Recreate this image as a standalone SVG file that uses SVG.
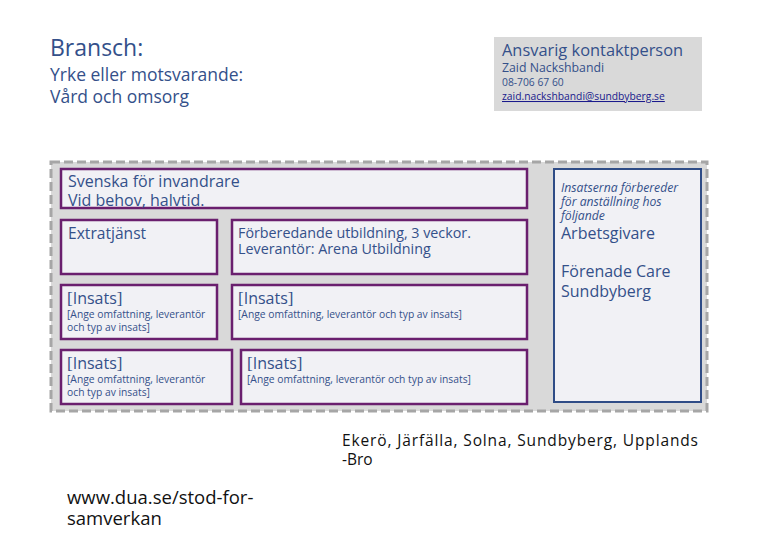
<svg xmlns="http://www.w3.org/2000/svg" width="780" height="540" viewBox="0 0 780 540">
<style>
.t{font-family:"Open Sans","Liberation Sans",sans-serif;fill:#34508a}
.k{font-family:"Open Sans","Liberation Sans",sans-serif;fill:#111}
.box{fill:#f1f1f5;stroke:#6a1f6e;stroke-width:2.5}
.small{font-size:10.3px}
.ins{font-family:"Liberation Serif",serif;font-size:17px;fill:#34508a}
</style>
<rect width="780" height="540" fill="#fff"/>
<g id="header">
<text class="t" x="50" y="56" font-size="23">Bransch:</text>
<text class="t" x="50" y="81" font-size="17.5">Yrke eller motsvarande:</text>
<text class="t" x="50" y="103" font-size="17.5">Vård och omsorg</text>
</g>
<g id="contact">
<rect x="494" y="37" width="208" height="74" fill="#d9d9d9"/>
<text class="t" x="502" y="56" font-size="16.4">Ansvarig kontaktperson</text>
<text class="t" x="502" y="72" font-size="12.3">Zaid Nackshbandi</text>
<text class="t" x="502" y="86" font-size="10.3">08-706 67 60</text>
<text x="502" y="100" font-size="10.3" fill="#1a1a8c" text-decoration="underline" font-family="Open Sans,Liberation Sans,sans-serif">zaid.nackshbandi@sundbyberg.se</text>
</g>
<g id="container">
<rect x="51" y="162" width="656" height="249" fill="#d9d9d9" stroke="#a6a6a6" stroke-width="3" stroke-dasharray="9,4"/>
</g>
<g id="sfi">
<rect class="box" x="61" y="169" width="466" height="39"/>
<text class="t" x="68" y="187" font-size="16">Svenska för invandrare</text>
<text class="t" x="68" y="206" font-size="16">Vid behov, halvtid.</text>
</g>
<g id="extratjanst">
<rect class="box" x="61" y="220" width="156" height="54"/>
<text class="t" x="68" y="239" font-size="15.6">Extratjänst</text>
</g>
<g id="forberedande">
<rect class="box" x="232" y="220" width="295" height="54"/>
<text class="t" x="238" y="238" font-size="14.3">Förberedande utbildning, 3 veckor.</text>
<text class="t" x="238" y="254" font-size="14.3">Leverantör: Arena Utbildning</text>
</g>
<g id="insats1">
<rect class="box" x="61" y="285" width="156" height="54"/>
<text class="ins" x="67" y="304">[<tspan font-family="Open Sans,Liberation Sans,sans-serif" font-size="16">Insats</tspan>]</text>
<text class="t small" x="67" y="318">[Ange omfattning, leverantör</text>
<text class="t small" x="67" y="331">och typ av insats]</text>
</g>
<g id="insats2">
<rect class="box" x="232" y="285" width="295" height="54"/>
<text class="ins" x="238" y="304">[<tspan font-family="Open Sans,Liberation Sans,sans-serif" font-size="16">Insats</tspan>]</text>
<text class="t small" x="238" y="318">[Ange omfattning, leverantör och typ av insats]</text>
</g>
<g id="insats3">
<rect class="box" x="61" y="350" width="171" height="54"/>
<text class="ins" x="67" y="369">[<tspan font-family="Open Sans,Liberation Sans,sans-serif" font-size="16">Insats</tspan>]</text>
<text class="t small" x="67" y="383">[Ange omfattning, leverantör</text>
<text class="t small" x="67" y="396">och typ av insats]</text>
</g>
<g id="insats4">
<rect class="box" x="241" y="350" width="286" height="54"/>
<text class="ins" x="247" y="369">[<tspan font-family="Open Sans,Liberation Sans,sans-serif" font-size="16">Insats</tspan>]</text>
<text class="t small" x="247" y="383">[Ange omfattning, leverantör och typ av insats]</text>
</g>
<g id="arbetsgivare">
<rect x="554" y="169" width="147" height="233" fill="#f1f1f5" stroke="#2f4c86" stroke-width="2"/>
<text class="t" x="561" y="192" font-size="12.2" font-style="italic">Insatserna förbereder</text>
<text class="t" x="561" y="206" font-size="12.2" font-style="italic">för anställning hos</text>
<text class="t" x="561" y="220" font-size="12.2" font-style="italic">följande</text>
<text class="t" x="561" y="239" font-size="16">Arbetsgivare</text>
<text class="t" x="561" y="277" font-size="16">Förenade Care</text>
<text class="t" x="561" y="297" font-size="16">Sundbyberg</text>
</g>
<g id="kommuner">
<text class="k" x="342" y="446" font-size="15.5" textLength="356" lengthAdjust="spacing">Ekerö,  Järfälla,  Solna,  Sundbyberg,  Upplands</text>
<text class="k" x="342" y="465" font-size="15.5">-Bro</text>
</g>
<g id="url">
<text class="k" x="67" y="504" font-size="18.5">www.dua.se/stod-for-</text>
<text class="k" x="67" y="525" font-size="18.5">samverkan</text>
</g>
<g id="connectors"/>
</svg>
